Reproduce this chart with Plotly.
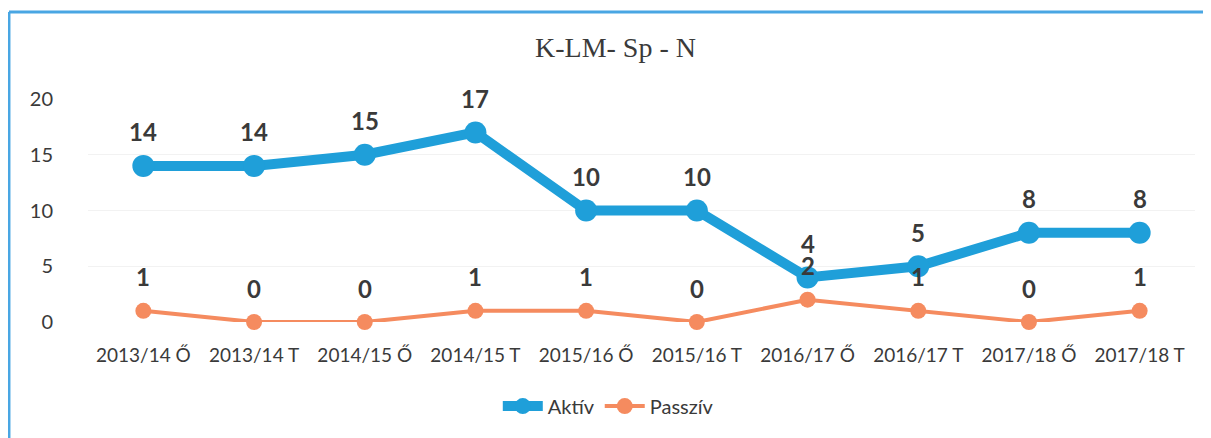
import plotly.graph_objects as go

# Adatok
kategoriak = ['2013/14 Ő', '2013/14 T', '2014/15 Ő', '2014/15 T', '2015/16 Ő',
              '2015/16 T', '2016/17 Ő', '2016/17 T', '2017/18 Ő', '2017/18 T']
aktiv = [14, 14, 15, 17, 10, 10, 4, 5, 8, 8]
passziv = [1, 0, 0, 1, 1, 0, 2, 1, 0, 1]
y_tickek = [0, 5, 10, 15, 20]

KEK = '#1f9fd9'
NARANCS = '#f58b5f'
SZOVEG = '#3a3a3a'
FONT = 'Lato, Open Sans, sans-serif'

fig = go.Figure()

fig.add_trace(go.Scatter(
    x=kategoriak, y=aktiv, name='Aktív', mode='lines+markers',
    line=dict(color=KEK, width=10),
    marker=dict(color=KEK, size=22),
    cliponaxis=False,
))
fig.add_trace(go.Scatter(
    x=kategoriak, y=passziv, name='Passzív', mode='lines+markers',
    line=dict(color=NARANCS, width=4),
    marker=dict(color=NARANCS, size=16),
    cliponaxis=False,
))

# Adatcímkék a pontok fölött
for sorozat in (aktiv, passziv):
    for kat, ertek in zip(kategoriak, sorozat):
        fig.add_annotation(
            x=kat, y=ertek, text=f'<b>{ertek}</b>', showarrow=False,
            yshift=34, font=dict(family=FONT, size=24, color=SZOVEG),
        )

# Keret (bal és felső vonal)
szin_keret = '#49a6e3'
fig.add_shape(type='line', xref='paper', yref='paper',
              x0=-0.0714, x1=1.03, y0=1.39, y1=1.39,
              line=dict(color=szin_keret, width=3))
fig.add_shape(type='line', xref='paper', yref='paper',
              x0=-0.0714, x1=-0.0714, y0=1.39, y1=-0.6,
              line=dict(color=szin_keret, width=3))

# az oldal 8 px-es margója miatt a méretek 8 px-szel kisebbek
fig.update_layout(
    width=1203, height=430,
    margin=dict(l=80, r=16, t=91, b=116, autoexpand=False),
    paper_bgcolor='white', plot_bgcolor='white',
    title=dict(text='K-LM- Sp - N', x=0.505, xanchor='center',
               y=1 - 39 / 430, yanchor='middle',
               font=dict(family='Liberation Serif, serif', size=28, color=SZOVEG)),
    legend=dict(orientation='h', x=0.47, xanchor='center', y=-0.377, yanchor='middle',
                font=dict(family=FONT, size=20, color=SZOVEG), itemwidth=40),
    showlegend=True,
)
fig.update_xaxes(range=[-0.5, 9.5], showgrid=False, showline=False, zeroline=False,
                 ticks='', automargin=False, ticklabelstandoff=20,
                 tickfont=dict(family=FONT, size=19, color=SZOVEG))
fig.update_yaxes(range=[0, 20], tickvals=y_tickek, showgrid=True, gridcolor='#f2f2f2',
                 zeroline=False, showline=False, ticks='', ticklabelstandoff=34,
                 automargin=False,
                 tickfont=dict(family=FONT, size=20, color=SZOVEG))

fig.write_html('out.html')
